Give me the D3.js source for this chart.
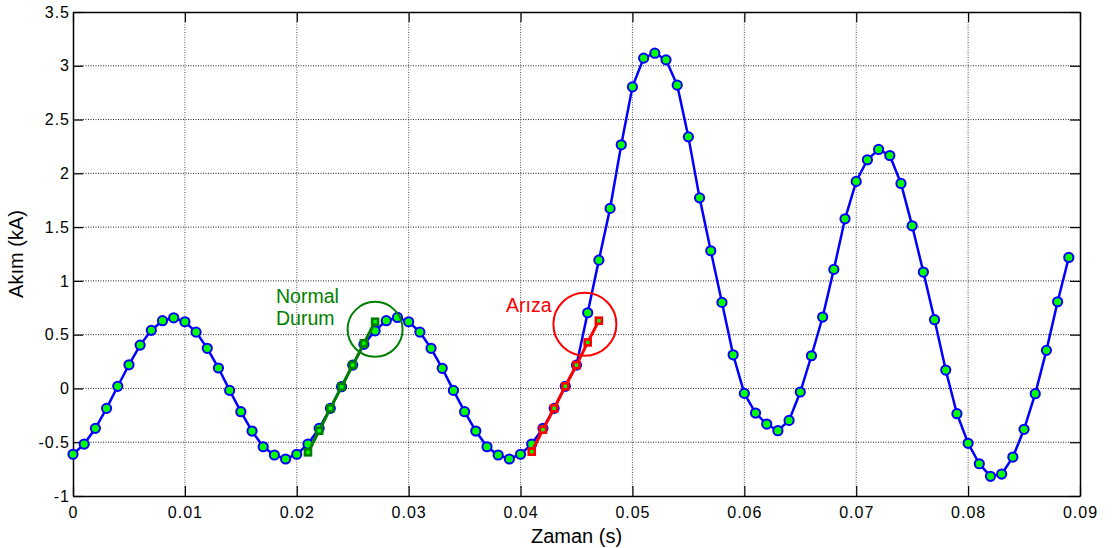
<!DOCTYPE html>
<html>
<head>
<meta charset="utf-8">
<script src="https://cdn.jsdelivr.net/npm/d3@7"></script>
<style>
    body { margin: 0; background: #fff; }
    svg { display: block; font-family: "Liberation Sans", Arial, sans-serif; }
</style>
</head>
<body>
<div id="chart"></div>
<script>
// Zaman ekseni (s) - her 1 ms'de bir örnek
const zaman = [
    0.000, 0.001, 0.002, 0.003, 0.004, 0.005, 0.006, 0.007, 0.008, 0.009,
    0.010, 0.011, 0.012, 0.013, 0.014, 0.015, 0.016, 0.017, 0.018, 0.019,
    0.020, 0.021, 0.022, 0.023, 0.024, 0.025, 0.026, 0.027, 0.028, 0.029,
    0.030, 0.031, 0.032, 0.033, 0.034, 0.035, 0.036, 0.037, 0.038, 0.039,
    0.040, 0.041, 0.042, 0.043, 0.044, 0.045, 0.046, 0.047, 0.048, 0.049,
    0.050, 0.051, 0.052, 0.053, 0.054, 0.055, 0.056, 0.057, 0.058, 0.059,
    0.060, 0.061, 0.062, 0.063, 0.064, 0.065, 0.066, 0.067, 0.068, 0.069,
    0.070, 0.071, 0.072, 0.073, 0.074, 0.075, 0.076, 0.077, 0.078, 0.079,
    0.080, 0.081, 0.082, 0.083, 0.084, 0.085, 0.086, 0.087, 0.088, 0.089
];

// Ölçülen akım (kA)
const akim = [
    -0.612, -0.517, -0.371, -0.185, 0.020, 0.220, 0.403, 0.540, 0.630, 0.657,
    0.620, 0.524, 0.373, 0.190, -0.018, -0.216, -0.396, -0.542, -0.619, -0.656,
    -0.612, -0.517, -0.371, -0.185, 0.016, 0.217, 0.410, 0.536, 0.630, 0.660,
    0.620, 0.524, 0.373, 0.187, -0.018, -0.216, -0.396, -0.542, -0.619, -0.656,
    -0.612, -0.517, -0.371, -0.185, 0.020, 0.217, 0.704, 1.193, 1.674, 2.265,
    2.804, 3.071, 3.117, 3.055, 2.820, 2.339, 1.772, 1.280, 0.800, 0.313,
    -0.046, -0.229, -0.331, -0.393, -0.297, -0.033, 0.304, 0.664, 1.107, 1.577,
    1.925, 2.126, 2.222, 2.166, 1.906, 1.512, 1.082, 0.639, 0.171, -0.235,
    -0.510, -0.700, -0.817, -0.796, -0.638, -0.380, -0.049, 0.354, 0.806, 1.218
];

// Normal durum penceresi
const normalZaman = [0.021, 0.022, 0.023, 0.024, 0.025, 0.026, 0.027];
const normalAkim = [-0.594, -0.393, -0.185, 0.016, 0.217, 0.419, 0.620];

// Arıza penceresi
const arizaZaman = [0.041, 0.042, 0.043, 0.044, 0.045, 0.046, 0.047];
const arizaAkim = [-0.588, -0.383, -0.185, 0.020, 0.217, 0.428, 0.630];

// Eksen işaretleri
const xTicks = [0, 0.01, 0.02, 0.03, 0.04, 0.05, 0.06, 0.07, 0.08, 0.09];
const yTicks = [-1, -0.5, 0, 0.5, 1, 1.5, 2, 2.5, 3, 3.5];

const W = 1113, H = 548;
const margin = { top: 12, right: 33, bottom: 52, left: 73 };
const width = W - margin.left - margin.right;
const height = H - margin.top - margin.bottom;

const svg = d3.select("#chart").append("svg")
    .attr("width", W)
    .attr("height", H);

const g = svg.append("g")
    .attr("transform", `translate(${margin.left},${margin.top})`);

const x = d3.scaleLinear().domain([0, 0.09]).range([0, width]);
const y = d3.scaleLinear().domain([-1, 3.5]).range([height, 0]);

// Izgara çizgileri (noktalı)
g.append("g").selectAll("line")
    .data(xTicks.slice(1, -1))
    .enter().append("line")
    .attr("x1", d => x(d)).attr("x2", d => x(d))
    .attr("y1", 0).attr("y2", height)
    .attr("stroke", "#555").attr("stroke-width", 1)
    .attr("stroke-dasharray", "1,1.5");

g.append("g").selectAll("line")
    .data(yTicks.slice(1, -1))
    .enter().append("line")
    .attr("x1", 0).attr("x2", width)
    .attr("y1", d => y(d)).attr("y2", d => y(d))
    .attr("stroke", "#222").attr("stroke-width", 1)
    .attr("stroke-dasharray", "1,1.5");

// Eksenler (MATLAB tarzı içe dönük işaretler)
const tickLen = 10;
const fmt = d => String(d);

const xAxis = g.append("g")
    .attr("transform", `translate(0,${height})`)
    .call(d3.axisBottom(x).tickValues(xTicks).tickFormat(fmt).tickSizeInner(-tickLen).tickSizeOuter(0).tickPadding(11));

const xAxisTop = g.append("g")
    .call(d3.axisTop(x).tickValues(xTicks).tickFormat("").tickSizeInner(-tickLen).tickSizeOuter(0));

const yAxis = g.append("g")
    .call(d3.axisLeft(y).tickValues(yTicks).tickFormat(fmt).tickSizeInner(-tickLen).tickSizeOuter(0).tickPadding(3));

const yAxisRight = g.append("g")
    .attr("transform", `translate(${width},0)`)
    .call(d3.axisRight(y).tickValues(yTicks).tickFormat("").tickSizeInner(-tickLen).tickSizeOuter(0));

[xAxis, xAxisTop, yAxis, yAxisRight].forEach(a => {
    a.select(".domain").attr("stroke", "#000").attr("stroke-width", 1.5);
    a.selectAll(".tick line").attr("stroke", "#000").attr("stroke-width", 1.2);
    a.selectAll("text")
        .attr("fill", "#000")
        .style("font-size", "16px")
        .style("letter-spacing", "1px")
        .style("font-family", "'Liberation Sans', Arial, sans-serif");
});

// Eksen başlıkları
g.append("text")
    .attr("x", width / 2)
    .attr("y", height + 47)
    .attr("text-anchor", "middle")
    .style("font-size", "20px")
    .text("Zaman (s)");

g.append("text")
    .attr("transform", "rotate(-90)")
    .attr("x", -height / 2)
    .attr("y", -50)
    .attr("text-anchor", "middle")
    .style("font-size", "20px")
    .text("Akım (kA)");

// Ana akım eğrisi
const akimData = zaman.map((t, i) => ({ t, v: akim[i] }));
const line = d3.line().x(d => x(d.t)).y(d => y(d.v));

g.append("path")
    .datum(akimData)
    .attr("fill", "none")
    .attr("stroke", "#0000ff")
    .attr("stroke-width", 2.5)
    .attr("d", line);

g.selectAll(".dot")
    .data(akimData)
    .enter().append("circle")
    .attr("class", "dot")
    .attr("cx", d => x(d.t))
    .attr("cy", d => y(d.v))
    .attr("r", 4.6)
    .attr("fill", "#00ff00")
    .attr("stroke", "#0000ff")
    .attr("stroke-width", 2);

// Pencere çizimleri (kare işaretli)
function drawWindow(ts, vs, color) {
    const data = ts.map((t, i) => ({ t, v: vs[i] }));
    g.append("path")
        .datum(data)
        .attr("fill", "none")
        .attr("stroke", color)
        .attr("stroke-width", 3)
        .attr("d", line);
    const s = 6;
    g.selectAll(null)
        .data(data)
        .enter().append("rect")
        .attr("x", d => x(d.t) - s / 2)
        .attr("y", d => y(d.v) - s / 2)
        .attr("width", s)
        .attr("height", s)
        .attr("fill", "#00ff00")
        .attr("stroke", color)
        .attr("stroke-width", 2.6);
}

drawWindow(normalZaman, normalAkim, "#008000");
drawWindow(arizaZaman, arizaAkim, "#ff0000");

// İşaret halkaları
g.append("circle")
    .attr("cx", x(0.027))
    .attr("cy", y(0.55))
    .attr("r", 27.5)
    .attr("fill", "none")
    .attr("stroke", "#008000")
    .attr("stroke-width", 2);

g.append("circle")
    .attr("cx", x(0.04575))
    .attr("cy", y(0.597))
    .attr("r", 31.5)
    .attr("fill", "none")
    .attr("stroke", "#ff0000")
    .attr("stroke-width", 2);

// Açıklama yazıları
const normalText = g.append("text")
    .attr("x", 276 - margin.left)
    .attr("y", 303 - margin.top)
    .attr("fill", "#008000")
    .style("font-size", "19.5px");
normalText.append("tspan").text("Normal");
normalText.append("tspan").attr("x", 276 - margin.left).attr("dy", 22).text("Durum");

g.append("text")
    .attr("x", 506 - margin.left)
    .attr("y", 312 - margin.top)
    .attr("fill", "#ff0000")
    .style("font-size", "19.5px")
    .text("Arıza");
</script>
</body>
</html>
